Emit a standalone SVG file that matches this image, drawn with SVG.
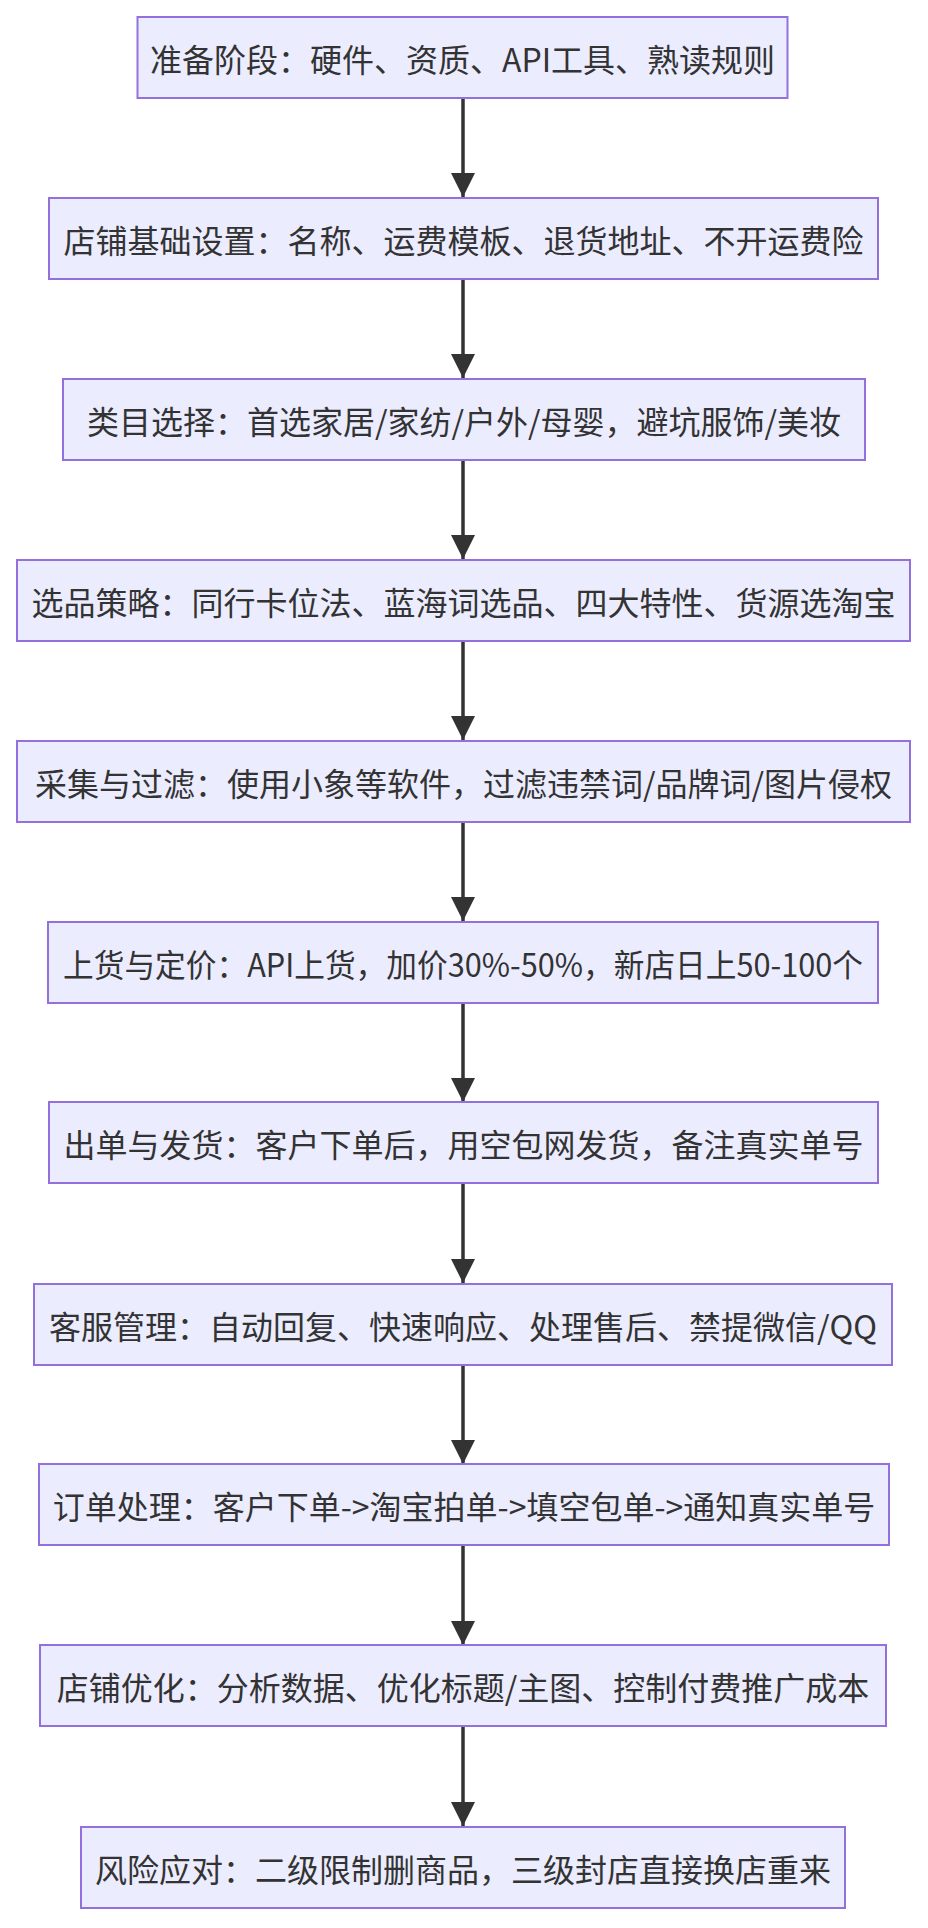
<svg xmlns="http://www.w3.org/2000/svg" width="928" height="1928" viewBox="0 0 928 1928">
<style>
.n rect{fill:#ECECFF;stroke:#9370DB;stroke-width:2}
.n text{font-family:"Noto Sans CJK SC","Noto Sans",sans-serif;font-size:32px;fill:#333;text-anchor:middle;dominant-baseline:central}
.e path{stroke:#333;stroke-width:3.5;fill:none;marker-end:url(#a)}
</style>
<defs><marker id="a" viewBox="0 0 10 10" refX="10" refY="5" markerWidth="26" markerHeight="24" markerUnits="userSpaceOnUse" orient="auto"><path d="M0,0L10,5L0,10z" fill="#333"/></marker></defs>
<rect width="928" height="1928" fill="#fff"/>
<g class="e" id="edges">
<path d="M463 98V197"/><path d="M463 279V378"/><path d="M463 460V559"/><path d="M463 641V740"/><path d="M463 822V921"/><path d="M463 1003V1102"/><path d="M463 1183V1283"/><path d="M463 1365V1464"/><path d="M463 1545V1645"/><path d="M463 1726V1826"/>
</g>
<g class="n" id="n1"><rect x="137.5" y="17" width="650" height="81"/><text x="462.5" y="57.5">准备阶段：硬件、资质、API工具、熟读规则</text></g>
<g class="n" id="n2"><rect x="49" y="198" width="829" height="81"/><text x="463.5" y="238.5">店铺基础设置：名称、运费模板、退货地址、不开运费险</text></g>
<g class="n" id="n3"><rect x="63" y="379" width="802" height="81"/><text x="464" y="419.5">类目选择：首选家居/家纺/户外/母婴，避坑服饰/美妆</text></g>
<g class="n" id="n4"><rect x="17" y="560" width="893" height="81"/><text x="463.5" y="600.5">选品策略：同行卡位法、蓝海词选品、四大特性、货源选淘宝</text></g>
<g class="n" id="n5"><rect x="17" y="741" width="893" height="81"/><text x="463.5" y="781.5">采集与过滤：使用小象等软件，过滤违禁词/品牌词/图片侵权</text></g>
<g class="n" id="n6"><rect x="48" y="922" width="830" height="81"/><text x="463" y="962.5" textLength="800" lengthAdjust="spacingAndGlyphs">上货与定价：API上货，加价30%-50%，新店日上50-100个</text></g>
<g class="n" id="n7"><rect x="49" y="1102" width="829" height="81"/><text x="463.5" y="1142.5">出单与发货：客户下单后，用空包网发货，备注真实单号</text></g>
<g class="n" id="n8"><rect x="34" y="1284" width="858" height="81"/><text x="463" y="1324.5">客服管理：自动回复、快速响应、处理售后、禁提微信/QQ</text></g>
<g class="n" id="n9"><rect x="39" y="1464" width="850" height="81"/><text x="464" y="1504.5">订单处理：客户下单-&gt;淘宝拍单-&gt;填空包单-&gt;通知真实单号</text></g>
<g class="n" id="n10"><rect x="40" y="1645" width="846" height="81"/><text x="463" y="1685.5">店铺优化：分析数据、优化标题/主图、控制付费推广成本</text></g>
<g class="n" id="n11"><rect x="81" y="1827" width="764" height="81"/><text x="463" y="1867.5">风险应对：二级限制删商品，三级封店直接换店重来</text></g>
</svg>
